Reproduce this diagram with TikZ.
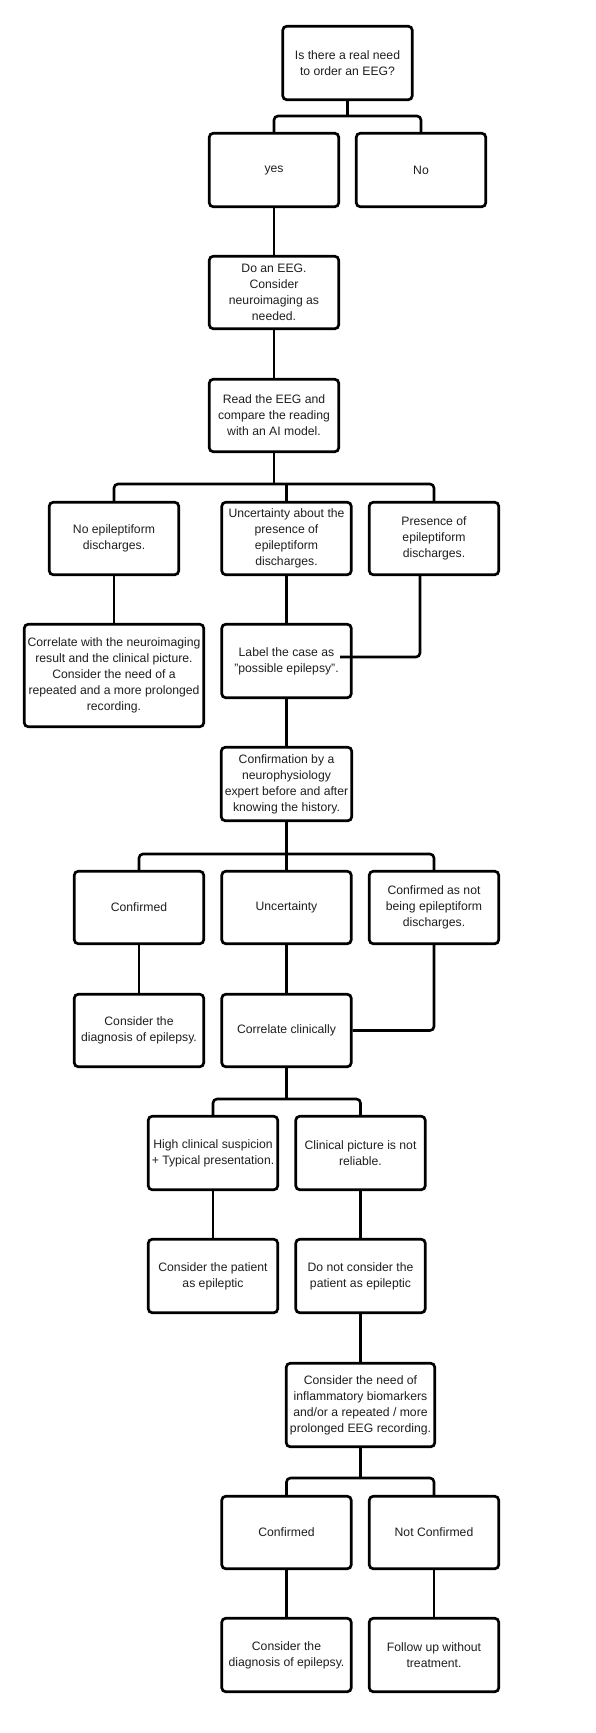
\documentclass[tikz,border=0pt]{standalone}
\usepackage{fontspec}
\setmainfont{Liberation Sans}
\begin{document}
\begin{tikzpicture}[x=1pt,y=1pt,
  box/.style={draw=black, line width=2.7pt, rounded corners=4pt, fill=white,
    minimum width=129.5pt, minimum height=73.5pt, inner sep=0pt, align=center,
    text=black!88, font=\fontsize{12.2}{16}\selectfont},
  conn/.style={draw=black, line width=2.6pt, rounded corners=4pt}]
\useasboundingbox (0,0) rectangle (595,-1733);
\fill[white] (0,0) rectangle (595,-1733);

% nodes
\node[box] (q) at (347.5,-63) {Is there a real need\\to order an EEG?};
\node[box] (yes) at (274,-170) {yes};
\node[box] (no) at (421,-170) {No};
\node[box, minimum height=72.5pt] (eeg) at (274,-292.5) {Do an EEG.\\Consider\\neuroimaging as\\needed.};
\node[box, minimum height=72.5pt] (read) at (274,-415.5) {Read the EEG and\\compare the reading\\with an AI model.};
\node[box, minimum height=72.5pt] (noep) at (114,-538.5) {No epileptiform\\discharges.};
\node[box, minimum height=72.5pt] (unc) at (286.5,-538.5) {Uncertainty about the\\presence of\\epileptiform\\discharges.};
\node[box, minimum height=72.5pt] (pres) at (434,-538.5) {Presence of\\epileptiform\\discharges.};
\node[box, minimum width=179.5pt, minimum height=102.5pt] (corr) at (114,-675.5) {Correlate with the neuroimaging\\result and the clinical picture.\\Consider the need of a\\repeated and a more prolonged\\recording.};
\node[box] (label) at (286.5,-661) {Label the case as\\"possible epilepsy".};
\node[box, minimum width=130.5pt] (conf) at (286.5,-784) {Confirmation by a\\neurophysiology\\expert before and after\\knowing the history.};
\node[box, minimum height=72.5pt] (cfd) at (139,-907.5) {Confirmed};
\node[box, minimum height=72.5pt] (unc2) at (286.5,-907.5) {Uncertainty};
\node[box, minimum height=72.5pt] (cnot) at (434,-907.5) {Confirmed as not\\being epileptiform\\discharges.};
\node[box, minimum height=72.5pt] (diag) at (139,-1030.5) {Consider the\\diagnosis of epilepsy.};
\node[box, minimum height=72.5pt] (cc) at (286.5,-1030.5) {Correlate clinically};
\node[box] (high) at (213,-1153) {High clinical suspicion\\+ Typical presentation.};
\node[box] (rel) at (360.5,-1153) {Clinical picture is not\\reliable.};
\node[box] (cpat) at (213,-1276) {Consider the patient\\as epileptic};
\node[box] (dnot) at (360.5,-1276) {Do not consider the\\patient as epileptic};
\node[box, minimum width=148.5pt, minimum height=83.5pt] (need) at (360.5,-1405) {Consider the need of\\inflammatory biomarkers\\and/or a repeated / more\\prolonged EEG recording.};
\node[box, minimum height=72.5pt] (cf2) at (286.5,-1532.5) {Confirmed};
\node[box, minimum height=72.5pt] (nc) at (434,-1532.5) {Not Confirmed};
\node[box] (diag2) at (286.5,-1655) {Consider the\\diagnosis of epilepsy.};
\node[box] (fu) at (434,-1655) {Follow up without\\treatment.};

% branch coordinates
\coordinate (b1) at (347.5,-116);
\coordinate (b2) at (274,-484);
\coordinate (b3) at (286.5,-854);
\coordinate (b4) at (286.5,-1099);
\coordinate (b5) at (360.5,-1478);
\coordinate (pstart) at (420,-576);
\coordinate (pend) at (340,-657);

% connectors
\draw[conn] (q.south) -- (b1);
\draw[conn] (yes.north) |- (b1) -| (no.north);
\draw[conn] (yes.south) -- (eeg.north);
\draw[conn] (eeg.south) -- (read.north);
\draw[conn] (read.south) -- (b2);
\draw[conn] (noep.north) |- (b2) -| (pres.north);
\draw[conn] (unc.north) -- (unc.north |- b2);
\draw[conn] (noep.south) -- (corr.north);
\draw[conn] (unc.south) -- (label.north);
\draw[conn] (pstart) |- (pend);
\draw[conn] (label.south) -- (conf.north);
\draw[conn] (conf.south) -- (unc2.north);
\draw[conn] (cfd.north) |- (b3) -| (cnot.north);
\draw[conn] (cfd.south) -- (diag.north);
\draw[conn] (unc2.south) -- (cc.north);
\draw[conn] (cnot.south) |- (cc.east);
\draw[conn] (cc.south) -- (b4);
\draw[conn] (high.north) |- (b4) -| (rel.north);
\draw[conn] (high.south) -- (cpat.north);
\draw[conn] (rel.south) -- (dnot.north);
\draw[conn] (dnot.south) -- (need.north);
\draw[conn] (need.south) -- (b5);
\draw[conn] (cf2.north) |- (b5) -| (nc.north);
\draw[conn] (cf2.south) -- (diag2.north);
\draw[conn] (nc.south) -- (fu.north);
\end{tikzpicture}
\end{document}
